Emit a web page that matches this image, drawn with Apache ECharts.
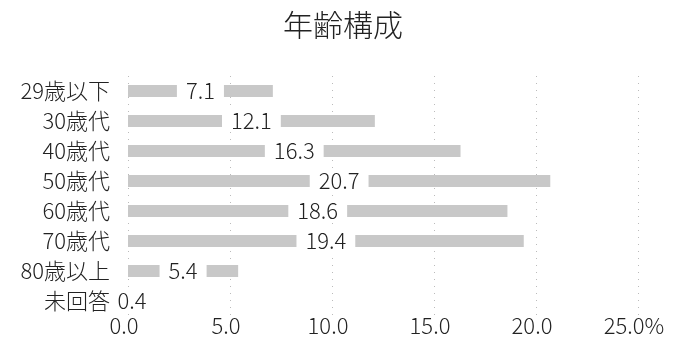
<!DOCTYPE html>
<html>
<head>
<meta charset="utf-8">
<script src="https://cdn.jsdelivr.net/npm/echarts@6/dist/echarts.min.js"></script>
<style>
  html, body { margin: 0; padding: 0; background: #fff; }
  #chart { width: 688px; height: 352px; }
</style>
</head>
<body>
<div id="chart"></div>
<script>
const categories = ["29歳以下", "30歳代", "40歳代", "50歳代", "60歳代", "70歳代", "80歳以上", "未回答"];
const values = [7.1, 12.1, 16.3, 20.7, 18.6, 19.4, 5.4, 0.4];
const tickLabels = ["0.0", "5.0", "10.0", "15.0", "20.0", "25.0%"];

const font = '"Noto Sans CJK JP", sans-serif';
const textColor = "#222";

const chart = echarts.init(document.getElementById("chart"));

// very short bar: tighter white box so the number sits right after the category text
const barData = values.map(v => ({
  value: v,
  label: v < 1 ? { padding: [0, 2] } : undefined
}));

chart.setOption({
  animation: false,
  title: {
    text: "年齢構成",
    left: 278,
    top: 5,
    textStyle: {
      fontFamily: font,
      fontSize: 30,
      fontWeight: 300,
      color: textColor
    }
  },
  grid: { left: 128, right: 50, top: 76, bottom: 36 },
  xAxis: {
    type: "value",
    min: 0,
    max: 25,
    interval: 5,
    axisLine: { show: false },
    axisTick: { show: false },
    axisLabel: {
      margin: 10,
      verticalAlign: "middle",
      padding: [0, 8, 0, 0],
      fontFamily: font,
      fontSize: 22,
      fontWeight: 300,
      color: textColor,
      formatter: v => tickLabels[Math.round(v / 5)]
    },
    splitLine: {
      show: true,
      lineStyle: { color: "#bbb", type: [1, 6], width: 1 }
    }
  },
  yAxis: {
    type: "category",
    inverse: true,
    data: categories,
    axisLine: { show: false },
    axisTick: { show: false },
    axisLabel: {
      margin: 18,
      fontFamily: font,
      fontSize: 22,
      fontWeight: 300,
      color: textColor
    }
  },
  series: [
    {
      type: "bar",
      data: barData,
      barWidth: 12,
      itemStyle: { color: "#c8c8c8" },
      label: {
        show: true,
        position: "inside",
        fontFamily: font,
        fontSize: 22,
        fontWeight: 300,
        color: textColor,
        backgroundColor: "#fff",
        padding: [0, 9],
        formatter: p => p.value.toFixed(1)
      }
    }
  ]
});
</script>
</body>
</html>
